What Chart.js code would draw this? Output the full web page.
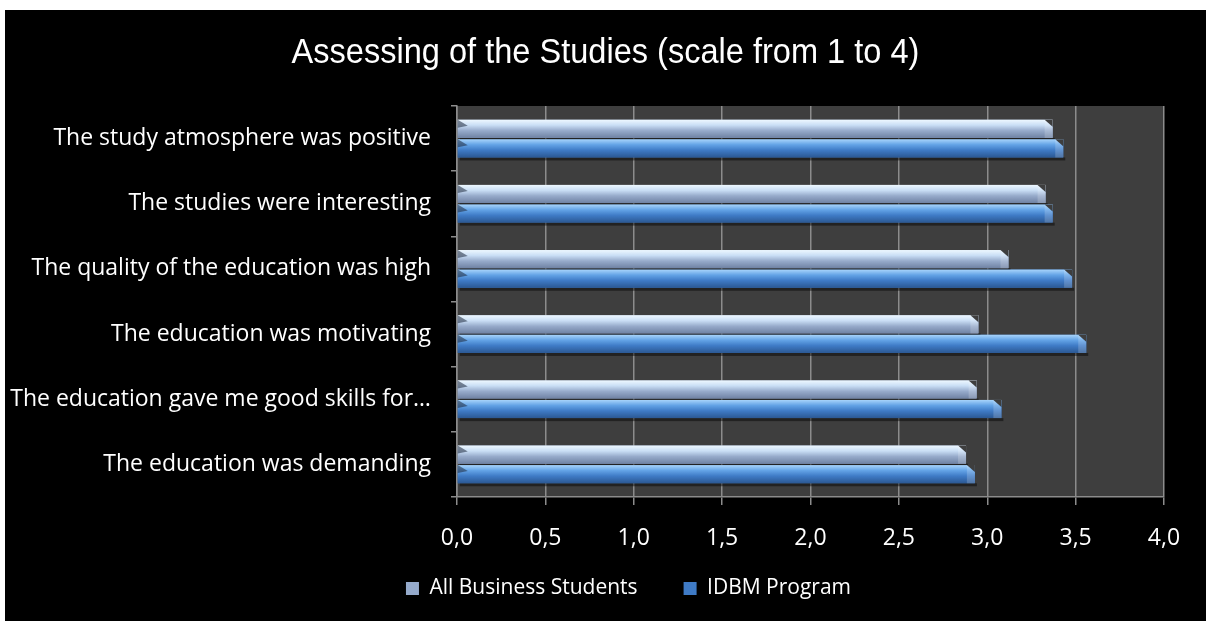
<!DOCTYPE html>
<html>
<head>
<meta charset="utf-8">
<script src="https://cdn.jsdelivr.net/npm/chart.js@4.4.0/dist/chart.umd.min.js"></script>
<style>
    html, body { margin: 0; padding: 0; background: #fff; overflow: hidden; }
    #frame { position: absolute; left: 5px; top: 10px; width: 1201px; height: 611px; background: #000; }
</style>
</head>
<body>
<div id="frame"><canvas id="chart" width="1201" height="611"></canvas></div>
<script>
const chartTitle = 'Assessing of the Studies (scale from 1 to 4)';
const categories = [
    'The study atmosphere was positive',
    'The studies were interesting',
    'The quality of the education was high',
    'The education was motivating',
    'The education gave me good skills for\u2026',
    'The education was demanding'
];
const seriesNames = ['All Business Students', 'IDBM Program'];
const allStudents = [3.37, 3.33, 3.12, 2.95, 2.94, 2.88];
const idbmProgram = [3.43, 3.37, 3.48, 3.56, 3.08, 2.93];
const xMin = 0, xMax = 4, xStep = 0.5;

const labelFont = "'Open Sans', sans-serif";

// gradient stops for the glossy bars, top to bottom
const barShades = [
    ['#eef8ff', '#c9def5', '#97abcb', '#6f82a3'],
    ['#a8d4fb', '#63a3e6', '#3f7bc6', '#2b5893']
];

// dark wall behind the bars
const wallPlugin = {
    id: 'wall',
    beforeDraw(chart) {
        const { ctx, chartArea: a } = chart;
        ctx.save();
        ctx.fillStyle = '#3e3e3e';
        ctx.fillRect(a.left, a.top, a.right - a.left, a.bottom - a.top);
        ctx.restore();
    }
};

// legend sits a bit right of the canvas centre, under the plot
const legendShift = {
    id: 'legendShift',
    afterLayout(chart) {
        chart.legend.left += 44;
        chart.legend.right += 44;
    }
};

// narrow title, squeezed horizontally
const titlePlugin = {
    id: 'narrowTitle',
    afterDraw(chart) {
        const ctx = chart.ctx;
        ctx.save();
        ctx.font = "35px 'Liberation Sans', sans-serif";
        ctx.fillStyle = '#fff';
        ctx.textAlign = 'center';
        ctx.textBaseline = 'alphabetic';
        ctx.translate(chart.width / 2, 53);
        ctx.scale(0.93, 1);
        ctx.fillText(chartTitle, 0, 0);
        ctx.restore();
    }
};

// repaint each bar with a vertical gloss and a bevelled end
const glossPlugin = {
    id: 'gloss',
    afterDatasetsDraw(chart) {
        const ctx = chart.ctx;
        chart.data.datasets.forEach((ds, di) => {
            const shades = barShades[di];
            chart.getDatasetMeta(di).data.forEach(bar => {
                const { x, y, base, height } = bar.getProps(['x', 'y', 'base', 'height'], true);
                const top = y - height / 2, bottom = y + height / 2;
                ctx.save();
                // soft shadow under the bar
                ctx.fillStyle = 'rgba(0,0,0,0.45)';
                ctx.fillRect(base + 2, bottom, x - base, 3);
                const g = ctx.createLinearGradient(0, top, 0, bottom);
                g.addColorStop(0, shades[0]);
                g.addColorStop(0.3, shades[1]);
                g.addColorStop(0.6, shades[2]);
                g.addColorStop(1, shades[3]);
                ctx.fillStyle = g;
                ctx.fillRect(base, top, x - base, height);
                // bevel on the far end
                ctx.beginPath();
                ctx.moveTo(x - 8, top);
                ctx.lineTo(x, top + 7);
                ctx.lineTo(x, bottom);
                ctx.lineTo(x - 8, bottom);
                ctx.closePath();
                ctx.fillStyle = 'rgba(255,255,255,0.18)';
                ctx.fill();
                ctx.beginPath();
                ctx.moveTo(x - 8, top);
                ctx.lineTo(x, top + 7);
                ctx.lineTo(x, top);
                ctx.closePath();
                ctx.fillStyle = '#3e3e3e';
                ctx.fill();
                // bevel on the start
                ctx.beginPath();
                ctx.moveTo(base, top);
                ctx.lineTo(base + 10, top + 6);
                ctx.lineTo(base, top + 8);
                ctx.closePath();
                ctx.fillStyle = 'rgba(30,40,60,0.55)';
                ctx.fill();
                ctx.restore();
            });
        });
    }
};

const ctx = document.getElementById('chart').getContext('2d');
const myChart = new Chart(ctx, {
    type: 'bar',
    data: {
        labels: categories,
        datasets: [
            { label: seriesNames[0], data: allStudents, backgroundColor: '#95aacb' },
            { label: seriesNames[1], data: idbmProgram, backgroundColor: '#3f7bc6' }
        ]
    },
    options: {
        indexAxis: 'y',
        responsive: false,
        animation: false,
        events: [],
        layout: { padding: { top: 96, right: 42, bottom: 12 } },
        datasets: {
            bar: { categoryPercentage: 0.6, barPercentage: 0.93 }
        },
        scales: {
            x: {
                min: xMin,
                max: xMax,
                ticks: {
                    stepSize: xStep,
                    color: '#fff',
                    padding: 20,
                    font: { family: labelFont, size: 23 },
                    callback: v => v.toFixed(1).replace('.', ',')
                },
                grid: { color: '#8c8c8c', lineWidth: 1.5, tickLength: 8 },
                border: { color: '#8c8c8c', width: 1.5 },
                afterFit(scale) { scale.height = 56; }
            },
            y: {
                ticks: {
                    color: '#fff',
                    padding: 20,
                    font: { family: labelFont, size: 23 }
                },
                grid: { drawOnChartArea: false, offset: true, color: '#8c8c8c', lineWidth: 1.5, tickLength: 6 },
                border: { color: '#8c8c8c', width: 1.5 },
                afterFit(scale) { scale.width = 452; }
            }
        },
        plugins: {
            title: { display: false },
            legend: {
                position: 'bottom',
                labels: {
                    color: '#fff',
                    boxWidth: 13,
                    boxHeight: 13,
                    padding: 25,
                    font: { family: labelFont, size: 21 },
                    // a little extra room between the two entries
                    generateLabels(chart) {
                        const items = Chart.defaults.plugins.legend.labels.generateLabels(chart);
                        items[0].text += '\u2003';
                        return items;
                    }
                }
            },
            tooltip: { enabled: false }
        }
    },
    plugins: [wallPlugin, legendShift, glossPlugin, titlePlugin]
});
</script>
</body>
</html>
